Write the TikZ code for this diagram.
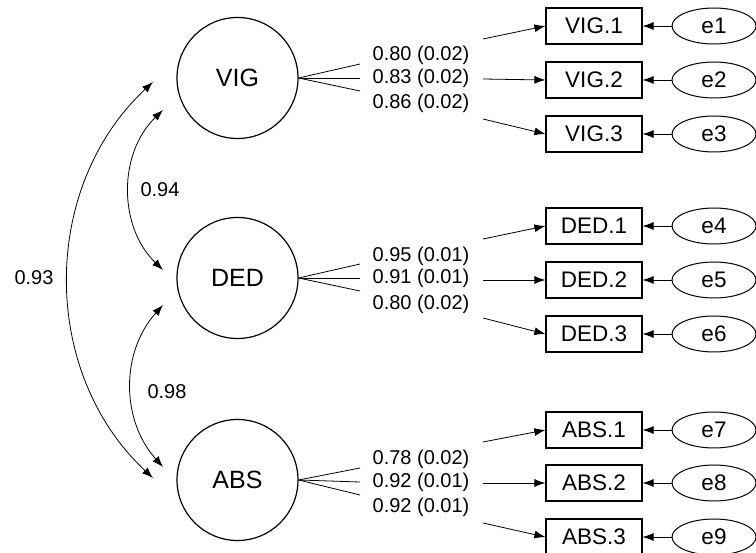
\documentclass[tikz,border=0pt]{standalone}
\usepackage{fontspec}
\setmainfont{Liberation Sans}
\usetikzlibrary{arrows.meta,calc,shapes.geometric}
\begin{document}
\begin{tikzpicture}[x=1pt,y=-1pt,
 latent/.style={circle,draw,line width=1.2pt,minimum size=121pt,inner sep=0pt,font=\fontsize{25}{30}\selectfont},
 obs/.style={rectangle,draw,line width=1.2pt,minimum width=96pt,minimum height=36pt,inner sep=0pt,font=\fontsize{22.5}{27}\selectfont},
 err/.style={ellipse,draw,line width=1pt,minimum width=84pt,minimum height=36pt,inner sep=0pt,font=\fontsize{22.5}{27}\selectfont},
 lab/.style={font=\fontsize{20}{24}\selectfont,inner sep=0pt},
 arr/.style={line width=0.8pt,-{Latex[length=11pt,width=8pt]}},
 cov/.style={line width=0.8pt,{Latex[length=11pt,width=8pt]}-{Latex[length=11pt,width=8pt]}},
 ln/.style={line width=0.8pt}]
\useasboundingbox (0,0) rectangle (756,553);
% latent factors
\node[latent] (VIG) at (237.5,78) {VIG};
\node[latent] (DED) at (237.5,278) {DED};
\node[latent] (ABS) at (237.5,480) {ABS};
% indicators
\node[obs] (VIG1) at (594,26) {VIG.1};
\node[obs] (VIG2) at (594,80) {VIG.2};
\node[obs] (VIG3) at (594,134) {VIG.3};
\node[obs] (DED1) at (594,226) {DED.1};
\node[obs] (DED2) at (594,280) {DED.2};
\node[obs] (DED3) at (594,334) {DED.3};
\node[obs] (ABS1) at (594,430) {ABS.1};
\node[obs] (ABS2) at (594,483) {ABS.2};
\node[obs] (ABS3) at (594,537) {ABS.3};
% errors
\foreach \i/\b/\y in {1/VIG1/26,2/VIG2/80,3/VIG3/134,4/DED1/226,5/DED2/280,6/DED3/334,7/ABS1/430,8/ABS2/483,9/ABS3/537}{
  \node[err] (e\i) at (714,\y) {e\i};
  \draw[arr] (e\i) -- (\b);
}
% loadings: VIG
\coordinate (v1) at (360,64); \coordinate (v2) at (360,78); \coordinate (v3) at (360,91);
\draw[ln] (VIG.east) -- (v1); \draw[ln] (VIG.east) -- (v2); \draw[ln] (VIG.east) -- (v3);
\node[lab] (lv1) at (421,55) {0.80 (0.02)};
\node[lab] (lv2) at (421,78) {0.83 (0.02)};
\node[lab] (lv3) at (421,103) {0.86 (0.02)};
\coordinate (sv1) at (483,39); \coordinate (sv2) at (483,79); \coordinate (sv3) at (483,119);
\draw[arr] (sv1) -- (VIG1.west); \draw[arr] (sv2) -- (VIG2.west); \draw[arr] (sv3) -- (VIG3.west);
% loadings: DED
\coordinate (d1) at (360,264); \coordinate (d2) at (360,278); \coordinate (d3) at (360,291);
\draw[ln] (DED.east) -- (d1); \draw[ln] (DED.east) -- (d2); \draw[ln] (DED.east) -- (d3);
\node[lab] (ld1) at (421,256) {0.95 (0.01)};
\node[lab] (ld2) at (421,278) {0.91 (0.01)};
\node[lab] (ld3) at (421,304) {0.80 (0.02)};
\coordinate (sd1) at (483,239); \coordinate (sd2) at (483,280); \coordinate (sd3) at (483,318);
\draw[arr] (sd1) -- (DED1.west); \draw[arr] (sd2) -- (DED2.west); \draw[arr] (sd3) -- (DED3.west);
% loadings: ABS
\coordinate (a1) at (360,468); \coordinate (a2) at (360,482); \coordinate (a3) at (360,495);
\draw[ln] (ABS.east) -- (a1); \draw[ln] (ABS.east) -- (a2); \draw[ln] (ABS.east) -- (a3);
\node[lab] (la1) at (421,459) {0.78 (0.02)};
\node[lab] (la2) at (421,482) {0.92 (0.01)};
\node[lab] (la3) at (421,507) {0.92 (0.01)};
\coordinate (sa1) at (483,442); \coordinate (sa2) at (483,483); \coordinate (sa3) at (483,523);
\draw[arr] (sa1) -- (ABS1.west); \draw[arr] (sa2) -- (ABS2.west); \draw[arr] (sa3) -- (ABS3.west);
% covariances
\coordinate (c1) at ($(VIG)+(-74.5,32)$);
\coordinate (c2) at ($(DED)+(-74.5,-8)$);
\coordinate (c3) at ($(DED)+(-74.5,27)$);
\coordinate (c4) at ($(ABS)+(-74.5,-13)$);
\coordinate (c5) at ($(VIG)+(-84.5,4)$);
\coordinate (c6) at ($(ABS)+(-84.5,-2)$);
\draw[cov] (c1) to[bend right=46] (c2);
\draw[cov] (c3) to[bend right=42] (c4);
\draw[cov] (c5) to[bend right=47] (c6);
\node[lab] (r1) at (160,190) {0.94};
\node[lab] (r2) at (167,392) {0.98};
\node[lab] (r3) at (34,278) {0.93};
\end{tikzpicture}
\end{document}
